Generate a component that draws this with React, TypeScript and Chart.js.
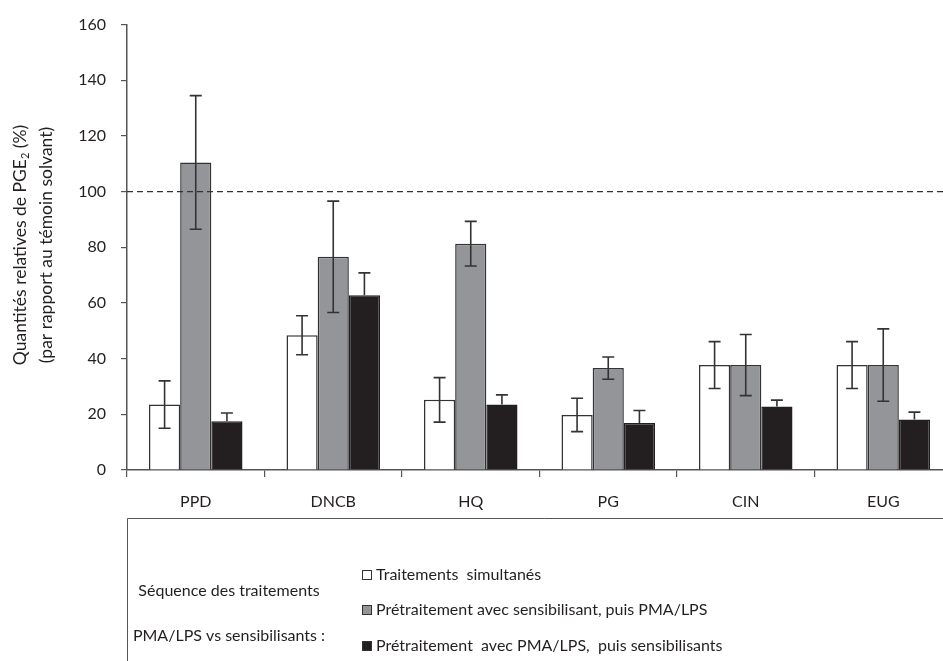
import React, { useEffect, useRef } from "react";
import { Chart, registerables } from "chart.js";

Chart.register(...registerables);

const categories = ["PPD", "DNCB", "HQ", "PG", "CIN", "EUG"];
const simultanes = [23.5, 48.4, 25.2, 19.8, 37.7, 37.7];
const simultanesErr = [8.5, 7, 8, 6, 8.4, 8.4];
const sensFirst = [110.5, 76.6, 81.3, 36.6, 37.7, 37.7];
const sensFirstErr = [24, 20, 8, 4, 11, 13];
const pmaFirst = [17.5, 62.8, 23.5, 16.9, 22.8, 18.1];
const pmaFirstErr = [3, 8, 3.5, 4.5, 2.3, 2.7];
const yTicks = [0, 20, 40, 60, 80, 100, 120, 140, 160];
const referenceLevel = 100;
const seriesLabels = [
  "Traitements  simultanés",
  "Prétraitement avec sensibilisant, puis PMA/LPS",
  "Prétraitement  avec PMA/LPS,  puis sensibilisants",
];
const legendTitle = ["Séquence des traitements", "PMA/LPS vs sensibilisants :"];
const yTitleMain = "Quantités relatives de PGE";
const yTitleSub = "2";
const yTitleEnd = " (%)";
const yTitle2 = "(par rapport au témoin solvant)";

const FONT = "Lato, 'Open Sans', sans-serif";
const INK = "#231f20";
const EDGE = "#333333";
const fills = ["#ffffff", "#939598", "#231f20"];
const errs = [simultanesErr, sensFirstErr, pmaFirstErr];

const extras = {
  id: "extras",
  afterDatasetsDraw(chart: any) {
    const ctx = chart.ctx;
    const y = chart.scales.y;
    const area = chart.chartArea;
    ctx.save();
    ctx.strokeStyle = EDGE;
    ctx.lineWidth = 1.6;
    chart.data.datasets.forEach((ds: any, di: number) => {
      const meta = chart.getDatasetMeta(di);
      meta.data.forEach((el: any, i: number) => {
        const v = ds.data[i];
        const e = errs[di][i];
        const x = el.x;
        const yt = y.getPixelForValue(v + e);
        const yb = y.getPixelForValue(di === 2 ? v : v - e);
        ctx.beginPath();
        ctx.moveTo(x, yt);
        ctx.lineTo(x, yb);
        ctx.moveTo(x - 6, yt);
        ctx.lineTo(x + 6, yt);
        if (di !== 2) {
          ctx.moveTo(x - 6, yb);
          ctx.lineTo(x + 6, yb);
        }
        ctx.stroke();
      });
    });
    const yr = y.getPixelForValue(referenceLevel);
    ctx.setLineDash([6, 4]);
    ctx.lineWidth = 1.2;
    ctx.strokeStyle = EDGE;
    ctx.beginPath();
    ctx.moveTo(area.left, yr);
    ctx.lineTo(area.right, yr);
    ctx.stroke();
    ctx.setLineDash([]);
    ctx.restore();
  },
  afterDraw(chart: any) {
    const ctx = chart.ctx;
    ctx.save();
    ctx.fillStyle = INK;
    ctx.textBaseline = "middle";
    ctx.save();
    ctx.translate(20, 245);
    ctx.rotate(-Math.PI / 2);
    ctx.font = `17.5px ${FONT}`;
    const wMain = ctx.measureText(yTitleMain).width;
    ctx.font = `11px ${FONT}`;
    const wSub = ctx.measureText(yTitleSub).width;
    ctx.font = `17.5px ${FONT}`;
    const wEnd = ctx.measureText(yTitleEnd).width;
    let cx = -(wMain + wSub + wEnd) / 2;
    ctx.textAlign = "left";
    ctx.fillText(yTitleMain, cx, 0);
    cx += wMain;
    ctx.font = `11px ${FONT}`;
    ctx.fillText(yTitleSub, cx, 5);
    cx += wSub;
    ctx.font = `17.5px ${FONT}`;
    ctx.fillText(yTitleEnd, cx, 0);
    ctx.restore();
    ctx.save();
    ctx.translate(46, 245);
    ctx.rotate(-Math.PI / 2);
    ctx.font = `17.5px ${FONT}`;
    ctx.textAlign = "center";
    ctx.fillText(yTitle2, 0, 0);
    ctx.restore();
    ctx.restore();

    ctx.save();
    ctx.strokeStyle = "#555555";
    ctx.lineWidth = 1;
    ctx.beginPath();
    ctx.moveTo(127.5, 700);
    ctx.lineTo(127.5, 518.5);
    ctx.lineTo(1000, 518.5);
    ctx.stroke();
    ctx.fillStyle = INK;
    ctx.font = `16px ${FONT}`;
    ctx.textAlign = "center";
    ctx.textBaseline = "middle";
    ctx.fillText(legendTitle[0], 229, 591);
    ctx.fillText(legendTitle[1], 229, 636);
    ctx.font = `16px ${FONT}`;
    ctx.textAlign = "left";
    const ys = [575, 610, 646];
    seriesLabels.forEach((lab, i) => {
      ctx.fillStyle = fills[i];
      ctx.fillRect(362, ys[i] - 5, 10, 10);
      ctx.strokeStyle = EDGE;
      ctx.lineWidth = 1;
      ctx.strokeRect(362.5, ys[i] - 4.5, 9, 9);
      ctx.fillStyle = INK;
      ctx.fillText(lab, 376, ys[i]);
    });
    ctx.restore();
  },
};

export default function App() {
  const ref = useRef<HTMLCanvasElement>(null);
  useEffect(() => {
    if (!ref.current) return;
    const chart = new Chart(ref.current, {
      type: "bar",
      data: {
        labels: categories,
        datasets: [
          { label: seriesLabels[0], data: simultanes, backgroundColor: fills[0], borderColor: EDGE, borderWidth: 1.5 },
          { label: seriesLabels[1], data: sensFirst, backgroundColor: fills[1], borderColor: EDGE, borderWidth: 1.5 },
          { label: seriesLabels[2], data: pmaFirst, backgroundColor: fills[2], borderColor: INK, borderWidth: 1.5 },
        ],
      },
      options: {
        responsive: false,
        animation: false,
        layout: { padding: { top: 21, right: 8, left: 0, bottom: 0 } },
        datasets: { bar: { categoryPercentage: 0.68, barPercentage: 1 } },
        plugins: { legend: { display: false }, tooltip: { enabled: false } },
        scales: {
          x: {
            offset: true,
            grid: { drawOnChartArea: false, drawTicks: true, tickLength: 7, color: "#555555", lineWidth: 1.2 },
            border: { color: "#555555", width: 1.5 },
            ticks: { color: INK, font: { family: FONT, size: 16 }, padding: 15, maxRotation: 0 },
            afterFit: (s: any) => { s.height = 191; },
          },
          y: {
            min: 0,
            max: 160,
            afterBuildTicks: (s: any) => { s.ticks = yTicks.map((v) => ({ value: v })); },
            grid: { drawOnChartArea: false, drawTicks: true, tickLength: 6, color: "#555555", lineWidth: 1.2 },
            border: { color: "#555555", width: 1.5 },
            ticks: { color: INK, font: { family: FONT, size: 16 }, padding: 15 },
            afterFit: (s: any) => { s.width = 127; },
          },
        },
      },
      plugins: [extras],
    });
    return () => chart.destroy();
  }, []);
  return (
    <div style={{ position: "fixed", left: 0, top: 0, width: 943, height: 661, overflow: "hidden", background: "#fff" }}>
      <canvas ref={ref} width={960} height={661} style={{ display: "block", width: 960, height: 661 }} />
    </div>
  );
}
